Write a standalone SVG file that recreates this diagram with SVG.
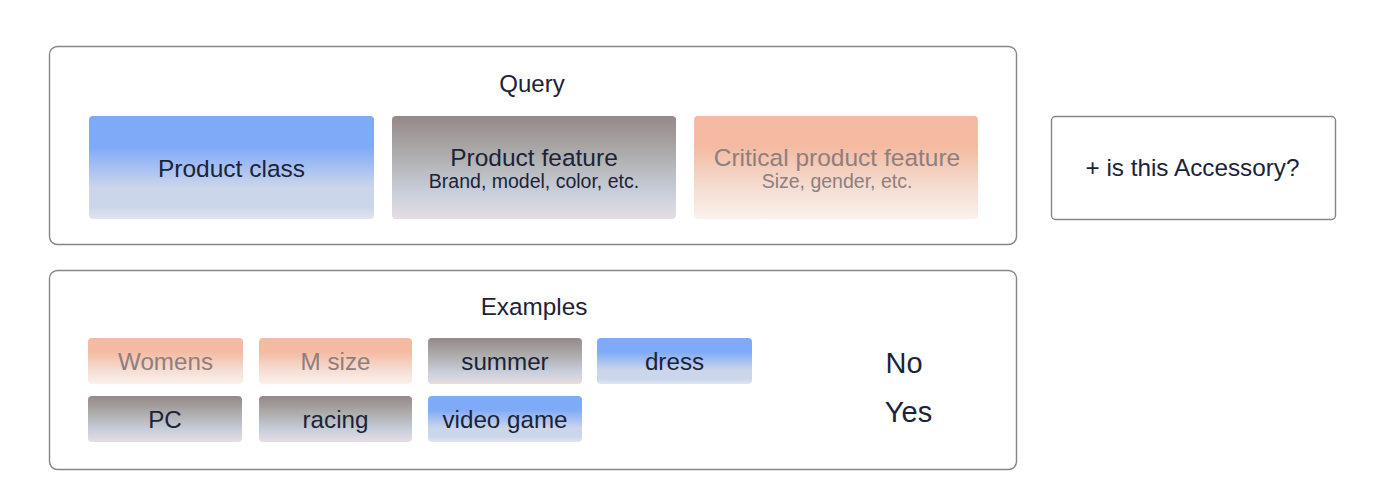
<svg xmlns="http://www.w3.org/2000/svg" width="1400" height="484" viewBox="0 0 1400 484">
<defs>
<linearGradient id="gBlue" x1="0" y1="0" x2="0" y2="1">
<stop offset="0" stop-color="#7faaf8"/>
<stop offset="0.3" stop-color="#7faaf8"/>
<stop offset="0.7" stop-color="#ccd6ea"/>
<stop offset="0.88" stop-color="#ccd6ea"/>
<stop offset="1" stop-color="#dfe4f0"/>
</linearGradient>
<linearGradient id="gGray" x1="0" y1="0" x2="0" y2="1">
<stop offset="0" stop-color="#958888"/>
<stop offset="0.4" stop-color="#afafaf"/>
<stop offset="0.75" stop-color="#c9cfdc"/>
<stop offset="1" stop-color="#e6dde2"/>
</linearGradient>
<linearGradient id="gPeach" x1="0" y1="0" x2="0" y2="1">
<stop offset="0" stop-color="#f4bba2"/>
<stop offset="0.3" stop-color="#f4bba2"/>
<stop offset="0.72" stop-color="#f5dfd5"/>
<stop offset="1" stop-color="#fbf1ec"/>
</linearGradient>
</defs>
<style>
.frame{fill:#fff;stroke:#8d8282;stroke-width:1.4}
.t{font-family:"Liberation Sans",Arial,sans-serif;fill:#1b2338;text-anchor:middle}
.m{fill:#8f7e7e}
</style>
<rect width="1400" height="484" fill="#fff"/>
<g id="query">
<rect class="frame" x="49.5" y="46.5" width="967" height="198" rx="8"/>
<text class="t" x="532" y="92" font-size="24">Query</text>
</g>
<g id="product-class">
<rect x="89" y="116" width="285" height="103" rx="4" fill="url(#gBlue)"/>
<text class="t" x="231.5" y="177" font-size="24.5">Product class</text>
</g>
<g id="product-feature">
<rect x="392" y="116" width="284" height="103" rx="4" fill="url(#gGray)"/>
<text class="t" x="534" y="166" font-size="24.5">Product feature</text>
<text class="t" x="534" y="188" font-size="19.5">Brand, model, color, etc.</text>
</g>
<g id="critical-feature">
<rect x="694" y="116" width="284" height="103" rx="4" fill="url(#gPeach)"/>
<text class="t m" x="837" y="166" font-size="24.5">Critical product feature</text>
<text class="t m" x="837" y="188" font-size="19.5">Size, gender, etc.</text>
</g>
<g id="accessory">
<rect class="frame" x="1051.5" y="116.5" width="284" height="103" rx="4"/>
<text class="t" x="1192.5" y="176" font-size="24.3">+ is this Accessory?</text>
</g>
<g id="examples">
<rect class="frame" x="49.5" y="270.5" width="967" height="199" rx="8"/>
<text class="t" x="534" y="315" font-size="24.3">Examples</text>
</g>
<g id="ex-womens">
<rect x="88" y="338" width="155" height="46" rx="4" fill="url(#gPeach)"/>
<text class="t m" x="165.5" y="370" font-size="24.2">Womens</text>
</g>
<g id="ex-msize">
<rect x="259" y="338" width="153" height="46" rx="4" fill="url(#gPeach)"/>
<text class="t m" x="335.5" y="370" font-size="24.2">M size</text>
</g>
<g id="ex-summer">
<rect x="428" y="338" width="154" height="46" rx="4" fill="url(#gGray)"/>
<text class="t" x="505" y="370" font-size="24.2">summer</text>
</g>
<g id="ex-dress">
<rect x="597" y="338" width="155" height="46" rx="4" fill="url(#gBlue)"/>
<text class="t" x="674.5" y="370" font-size="24.2">dress</text>
</g>
<g id="ex-pc">
<rect x="88" y="396" width="154" height="46" rx="4" fill="url(#gGray)"/>
<text class="t" x="165" y="428" font-size="24.2">PC</text>
</g>
<g id="ex-racing">
<rect x="259" y="396" width="153" height="46" rx="4" fill="url(#gGray)"/>
<text class="t" x="335.5" y="428" font-size="24.2">racing</text>
</g>
<g id="ex-videogame">
<rect x="428" y="396" width="154" height="46" rx="4" fill="url(#gBlue)"/>
<text class="t" x="505" y="428" font-size="24.2">video game</text>
</g>
<g id="answers">
<text class="t" x="904" y="373" font-size="29">No</text>
<text class="t" x="908.5" y="422" font-size="29">Yes</text>
</g>
<g id="connectors"/>
</svg>
